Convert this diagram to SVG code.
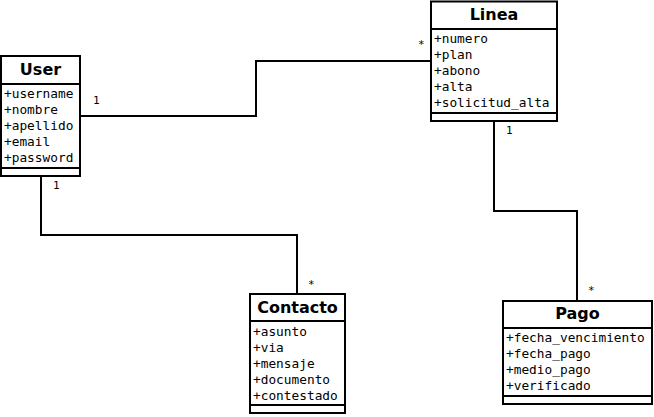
<svg xmlns="http://www.w3.org/2000/svg" width="654" height="417" viewBox="0 0 654 417">
<style>
.box{fill:#fff;stroke:#000;stroke-width:2}
.sep{stroke:#000;stroke-width:2}
.title{font-family:"DejaVu Sans",sans-serif;font-weight:bold;font-size:16px;text-anchor:middle}
.attr{font-family:"DejaVu Sans Mono",monospace;font-size:12.8px}
.lbl{font-family:"DejaVu Sans Mono",monospace;font-size:11px}
.edge{fill:none;stroke:#000;stroke-width:2}
</style>
<rect width="654" height="417" fill="#fff"/>
<g id="connectors">
<polyline class="edge" points="80,116 256,116 256,61 431,61"/>
<polyline class="edge" points="41,176 41,235 297,235 297,294"/>
<polyline class="edge" points="494,121 494,211 577,211 577,301"/>
<text class="lbl" x="93" y="104">1</text>
<text class="lbl" x="418" y="48">*</text>
<text class="lbl" x="53" y="189">1</text>
<text class="lbl" x="308" y="288">*</text>
<text class="lbl" x="506" y="134">1</text>
<text class="lbl" x="588" y="294">*</text>
</g>
<g id="User">
<rect class="box" x="1" y="56" width="79" height="120"/>
<line class="sep" x1="1" y1="84" x2="80" y2="84"/>
<line class="sep" x1="1" y1="168" x2="80" y2="168"/>
<text class="title" x="40.5" y="75">User</text>
<text class="attr" x="4" y="98">+username</text>
<text class="attr" x="4" y="114">+nombre</text>
<text class="attr" x="4" y="130">+apellido</text>
<text class="attr" x="4" y="146">+email</text>
<text class="attr" x="4" y="162">+password</text>
</g>
<g id="Linea">
<rect class="box" x="431" y="1.5" width="126" height="119.5"/>
<line class="sep" x1="431" y1="29" x2="557" y2="29"/>
<line class="sep" x1="431" y1="113" x2="557" y2="113"/>
<text class="title" x="494" y="20">Linea</text>
<text class="attr" x="434" y="43">+numero</text>
<text class="attr" x="434" y="59">+plan</text>
<text class="attr" x="434" y="75">+abono</text>
<text class="attr" x="434" y="91">+alta</text>
<text class="attr" x="434" y="107">+solicitud_alta</text>
</g>
<g id="Contacto">
<rect class="box" x="250" y="294" width="95" height="119"/>
<line class="sep" x1="250" y1="321" x2="345" y2="321"/>
<line class="sep" x1="250" y1="405" x2="345" y2="405"/>
<text class="title" x="297.5" y="313">Contacto</text>
<text class="attr" x="253" y="336">+asunto</text>
<text class="attr" x="253" y="352">+via</text>
<text class="attr" x="253" y="368">+mensaje</text>
<text class="attr" x="253" y="384">+documento</text>
<text class="attr" x="253" y="400">+contestado</text>
</g>
<g id="Pago">
<rect class="box" x="503" y="301" width="149" height="103"/>
<line class="sep" x1="503" y1="328" x2="652" y2="328"/>
<line class="sep" x1="503" y1="396" x2="652" y2="396"/>
<text class="title" x="577.5" y="319">Pago</text>
<text class="attr" x="506" y="342">+fecha_vencimiento</text>
<text class="attr" x="506" y="358">+fecha_pago</text>
<text class="attr" x="506" y="374">+medio_pago</text>
<text class="attr" x="506" y="390">+verificado</text>
</g>
</svg>
